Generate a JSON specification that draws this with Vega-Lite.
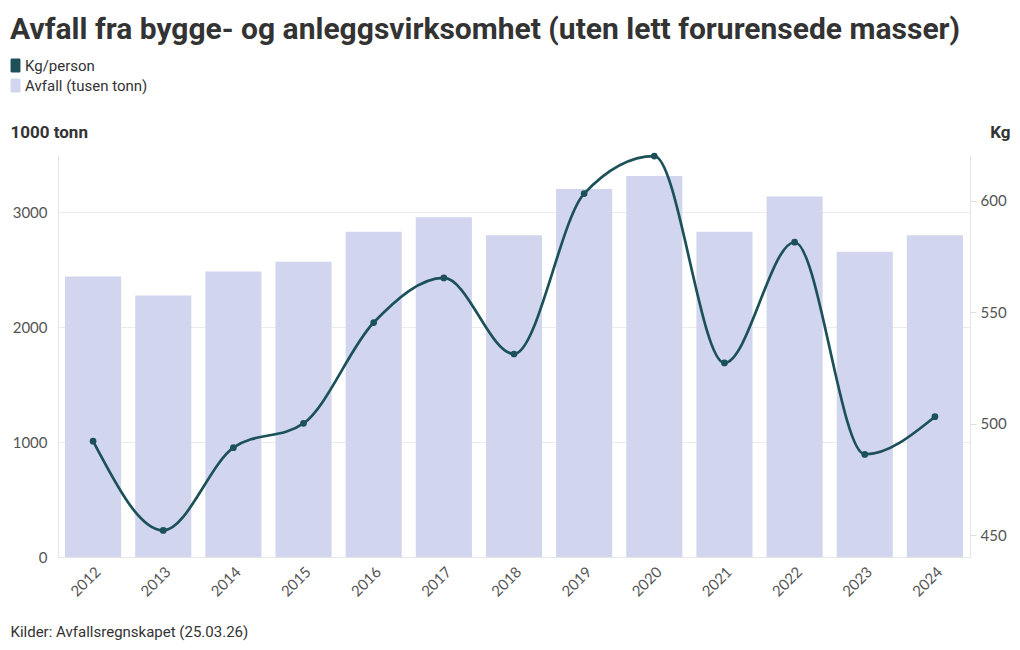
{
  "$schema": "https://vega.github.io/schema/vega-lite/v6.json",
  "width": 912,
  "height": 402,
  "autosize": {"type": "none"},
  "padding": {"left": 58, "top": 155, "right": 50, "bottom": 93},
  "background": "white",
  "config": {
    "view": {"stroke": null},
    "font": "Lato",
    "axis": {"labelFont": "Lato", "labelFontSize": 14, "labelColor": "#555555", "titleFont": "Liberation Sans Narrow, Roboto", "titleColor": "#333333"}
  },
  "title": {
    "text": "Avfall fra bygge- og anleggsvirksomhet (uten lett forurensede masser)",
    "anchor": "start",
    "frame": "group",
    "dx": -48,
    "offset": 13,
    "font": "Liberation Sans Narrow, Roboto",
    "fontSize": 30,
    "fontWeight": "bold",
    "color": "#333333"
  },
  "data": {
    "values": [
      {"year": "2012", "avfall": 2442, "kg": 492.2},
      {"year": "2013", "avfall": 2277, "kg": 452.2},
      {"year": "2014", "avfall": 2486, "kg": 489.3},
      {"year": "2015", "avfall": 2570, "kg": 500.2},
      {"year": "2016", "avfall": 2831, "kg": 545.4},
      {"year": "2017", "avfall": 2959, "kg": 565.4},
      {"year": "2018", "avfall": 2802, "kg": 531.3},
      {"year": "2019", "avfall": 3203, "kg": 603.2},
      {"year": "2020", "avfall": 3318, "kg": 620.0},
      {"year": "2021", "avfall": 2831, "kg": 527.3},
      {"year": "2022", "avfall": 3138, "kg": 581.4},
      {"year": "2023", "avfall": 2657, "kg": 486.3},
      {"year": "2024", "avfall": 2802, "kg": 503.2}
    ]
  },
  "encoding": {
    "x": {
      "field": "year",
      "type": "ordinal",
      "scale": {"paddingInner": 0.2, "paddingOuter": 0.1},
      "axis": {
        "labelAngle": -45,
        "labelPadding": 7,
        "labelFontSize": 15,
        "ticks": false,
        "domain": true,
        "domainColor": "#e6e6e6",
        "title": "Kilder: Avfallsregnskapet (25.03.26)",
        "titleAnchor": "start",
        "titleAlign": "left",
        "titleX": -48,
        "titleY": 74,
        "titleBaseline": "middle",
        "titleFontSize": 15,
        "titleFontWeight": "normal",
        "titleColor": "#333333"
      }
    }
  },
  "layer": [
    {
      "mark": {"type": "bar", "fill": "#d1d6ee"},
      "encoding": {
        "y": {
          "field": "avfall",
          "type": "quantitative",
          "scale": {"domain": [0, 3500], "nice": false},
          "axis": {
            "values": [0, 1000, 2000, 3000],
            "format": "d",
            "grid": true,
            "gridColor": "#ececec",
            "domain": true,
            "domainColor": "#e6e6e6",
            "ticks": false,
            "labelPadding": 11,
            "labelFontSize": 15,
            "title": "1000 tonn",
            "titleAngle": 0,
            "titleAlign": "left",
            "titleBaseline": "middle",
            "titleX": -48,
            "titleY": -23,
            "titleFontSize": 17,
            "titleFontWeight": "bold"
          }
        },
        "color": {
          "datum": "Avfall (tusen tonn)",
          "type": "nominal",
          "scale": {"domain": ["Kg/person", "Avfall (tusen tonn)"], "range": ["#1d5159", "#d1d6ee"]},
          "legend": {
            "title": null,
            "orient": "none",
            "legendX": -50,
            "legendY": -97,
            "symbolType": "M-0.5,-1H0.5Q0.7,-1 0.7,-0.8V0.8Q0.7,1 0.5,1H-0.5Q-0.7,1 -0.7,0.8V-0.8Q-0.7,-1 -0.5,-1Z",
            "symbolSize": 200,
            "symbolStrokeWidth": 0,
            "symbolOpacity": 1,
            "labelFont": "Liberation Sans Narrow, Roboto",
            "labelFontSize": 15,
            "labelColor": "#333333",
            "labelOffset": 2,
            "rowPadding": 4
          }
        }
      }
    },
    {
      "mark": {"type": "line", "interpolate": "monotone", "strokeWidth": 2.7},
      "encoding": {
        "y": {
          "field": "kg",
          "type": "quantitative",
          "scale": {"domain": [440.3, 620.5], "nice": false, "zero": false},
          "axis": {
            "orient": "right",
            "values": [450, 500, 550, 600],
            "grid": false,
            "domain": true,
            "domainColor": "#e6e6e6",
            "ticks": true,
            "tickColor": "#e0e0e0",
            "tickSize": 6,
            "labelPadding": 4,
            "labelFontSize": 15,
            "title": "Kg",
            "titleAngle": 0,
            "titleAlign": "right",
            "titleBaseline": "middle",
            "titleX": 40,
            "titleY": -23,
            "titleFontSize": 17,
            "titleFontWeight": "bold"
          }
        },
        "color": {"datum": "Kg/person", "type": "nominal"}
      }
    },
    {
      "mark": {"type": "point", "filled": true, "size": 45, "opacity": 1},
      "encoding": {
        "y": {"field": "kg", "type": "quantitative", "scale": {"domain": [440.3, 620.5], "nice": false, "zero": false}, "axis": null},
        "color": {"datum": "Kg/person", "type": "nominal"}
      }
    }
  ],
  "resolve": {"scale": {"y": "independent"}}
}
